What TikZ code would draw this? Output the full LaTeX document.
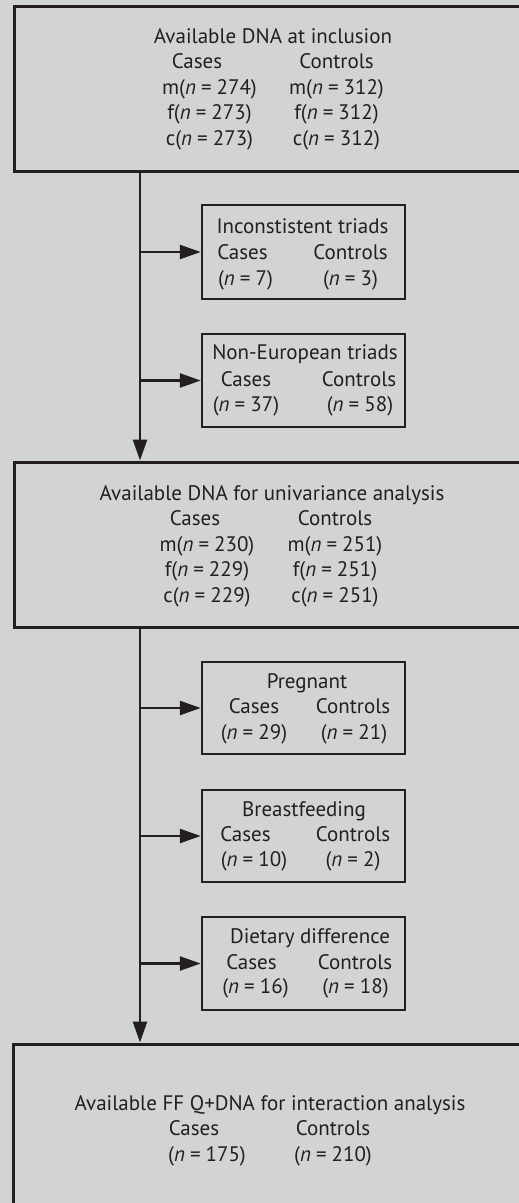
\documentclass[tikz,border=0pt]{standalone}
\usepackage{fontspec}
\setmainfont{PT Sans}
\usetikzlibrary{arrows.meta}
\definecolor{bggray}{RGB}{209,211,212}
\definecolor{inkblack}{RGB}{35,31,32}
\newcommand{\nval}[1]{\textit{n}\hspace{0.24em}=\hspace{0.24em}#1}

\begin{document}
\begin{tikzpicture}[x=1pt,y=-1pt,
  font=\fontsize{21}{25.5}\selectfont, inkblack,
  bigbox/.style={draw=inkblack,line width=3pt,rectangle,inner sep=0pt,minimum width=530pt},
  smallbox/.style={draw=inkblack,line width=2.5pt,rectangle,inner sep=0pt,minimum width=203pt},
  txt/.style={anchor=base,inner sep=0pt,align=center},
  flow/.style={draw=inkblack,line width=2.6pt,-{Triangle[length=21pt,width=14pt]}}]

	\fill[bggray] (0,0) rectangle (519,1203);
	\useasboundingbox (0,0) rectangle (519,1203);
	\clip (0,0) rectangle (519,1203);

	% at inclusion (columns anchored at their last line)
	\node[bigbox,minimum height=165pt] (incl) at (279,88.5) {};
	\node[txt] (inclT) at (273,43) {Available DNA at inclusion};
	\node[txt] (inclCa) at (197,68.5) {Cases};
	\node[txt] (inclCo) at (336.5,68.5) {Controls};
	\node[txt] (inclCaN) at (209.5,145) {m(\nval{274})\\f(\nval{273})\\c(\nval{273})};
	\node[txt] (inclCoN) at (336.5,145) {m(\nval{312})\\f(\nval{312})\\c(\nval{312})};

	% excluded before univariance analysis
	\node[smallbox,minimum height=94pt] (incon) at (303.5,252) {};
	\node[txt] (inconT) at (302.5,233) {Inconstistent triads};
	\node[txt] (inconCa) at (242.5,259) {Cases};
	\node[txt] (inconCo) at (350.5,259) {Controls};
	\node[txt] (inconCaN) at (245.5,285) {(\nval{7})};
	\node[txt] (inconCoN) at (350.5,285) {(\nval{3})};

	\node[smallbox,minimum height=93pt] (noneu) at (303.5,380.5) {};
	\node[txt] (noneuT) at (305,359) {Non-European triads};
	\node[txt] (noneuCa) at (246,386) {Cases};
	\node[txt] (noneuCo) at (359,386) {Controls};
	\node[txt] (noneuCaN) at (246,411) {(\nval{37})};
	\node[txt] (noneuCoN) at (360,411) {(\nval{58})};

	% univariance analysis
	\node[bigbox,minimum height=165pt] (univ) at (279,544.5) {};
	\node[txt] (univT) at (272,500) {Available DNA for univariance analysis};
	\node[txt] (univCa) at (195,525) {Cases};
	\node[txt] (univCo) at (335,525) {Controls};
	\node[txt] (univCaN) at (207,602) {m(\nval{230})\\f(\nval{229})\\c(\nval{229})};
	\node[txt] (univCoN) at (335,602) {m(\nval{251})\\f(\nval{251})\\c(\nval{251})};

	% excluded before interaction analysis
	\node[smallbox,minimum height=92pt] (preg) at (303.5,708) {};
	\node[txt] (pregT) at (307,688) {Pregnant};
	\node[txt] (pregCa) at (254,713) {Cases};
	\node[txt] (pregCo) at (353,713) {Controls};
	\node[txt] (pregCaN) at (254,739) {(\nval{29})};
	\node[txt] (pregCoN) at (354,739) {(\nval{21})};

	\node[smallbox,minimum height=92pt] (breast) at (303.5,836) {};
	\node[txt] (breastT) at (304,816) {Breastfeeding};
	\node[txt] (breastCa) at (245.5,841) {Cases};
	\node[txt] (breastCo) at (353,841) {Controls};
	\node[txt] (breastCaN) at (254,866) {(\nval{10})};
	\node[txt] (breastCoN) at (353,866) {(\nval{2})};

	\node[smallbox,minimum height=93pt] (diet) at (303.5,963.5) {};
	\node[txt] (dietT) at (310,943) {Dietary difference};
	\node[txt] (dietCa) at (251.5,969) {Cases};
	\node[txt] (dietCo) at (355,969) {Controls};
	\node[txt] (dietCaN) at (255.5,993) {(\nval{16})};
	\node[txt] (dietCoN) at (355.5,993) {(\nval{18})};

	% interaction analysis
	\node[bigbox,minimum height=200pt] (inter) at (278,1144) {};
	\node[txt] (interT) at (270,1110) {Available FF Q+DNA for interaction analysis};
	\node[txt] (interCa) at (194,1135) {Cases};
	\node[txt] (interCo) at (333,1135) {Controls};
	\node[txt] (interCaN) at (207,1161) {(\nval{175})};
	\node[txt] (interCoN) at (333,1161) {(\nval{210})};

	% connectors
	\coordinate (trunkA) at (140,171);
	\coordinate (trunkB) at (140,627);
	\draw[flow] (trunkA) -- (trunkA |- univ.north);
	\draw[flow] (trunkA |- incon.west) -- (incon.west);
	\draw[flow] (trunkA |- noneu.west) -- (noneu.west);
	\draw[flow] (trunkB) -- (trunkB |- inter.north);
	\draw[flow] (trunkB |- preg.west) -- (preg.west);
	\draw[flow] (trunkB |- breast.west) -- (breast.west);
	\draw[flow] (trunkB |- diet.west) -- (diet.west);
\end{tikzpicture}
\end{document}
